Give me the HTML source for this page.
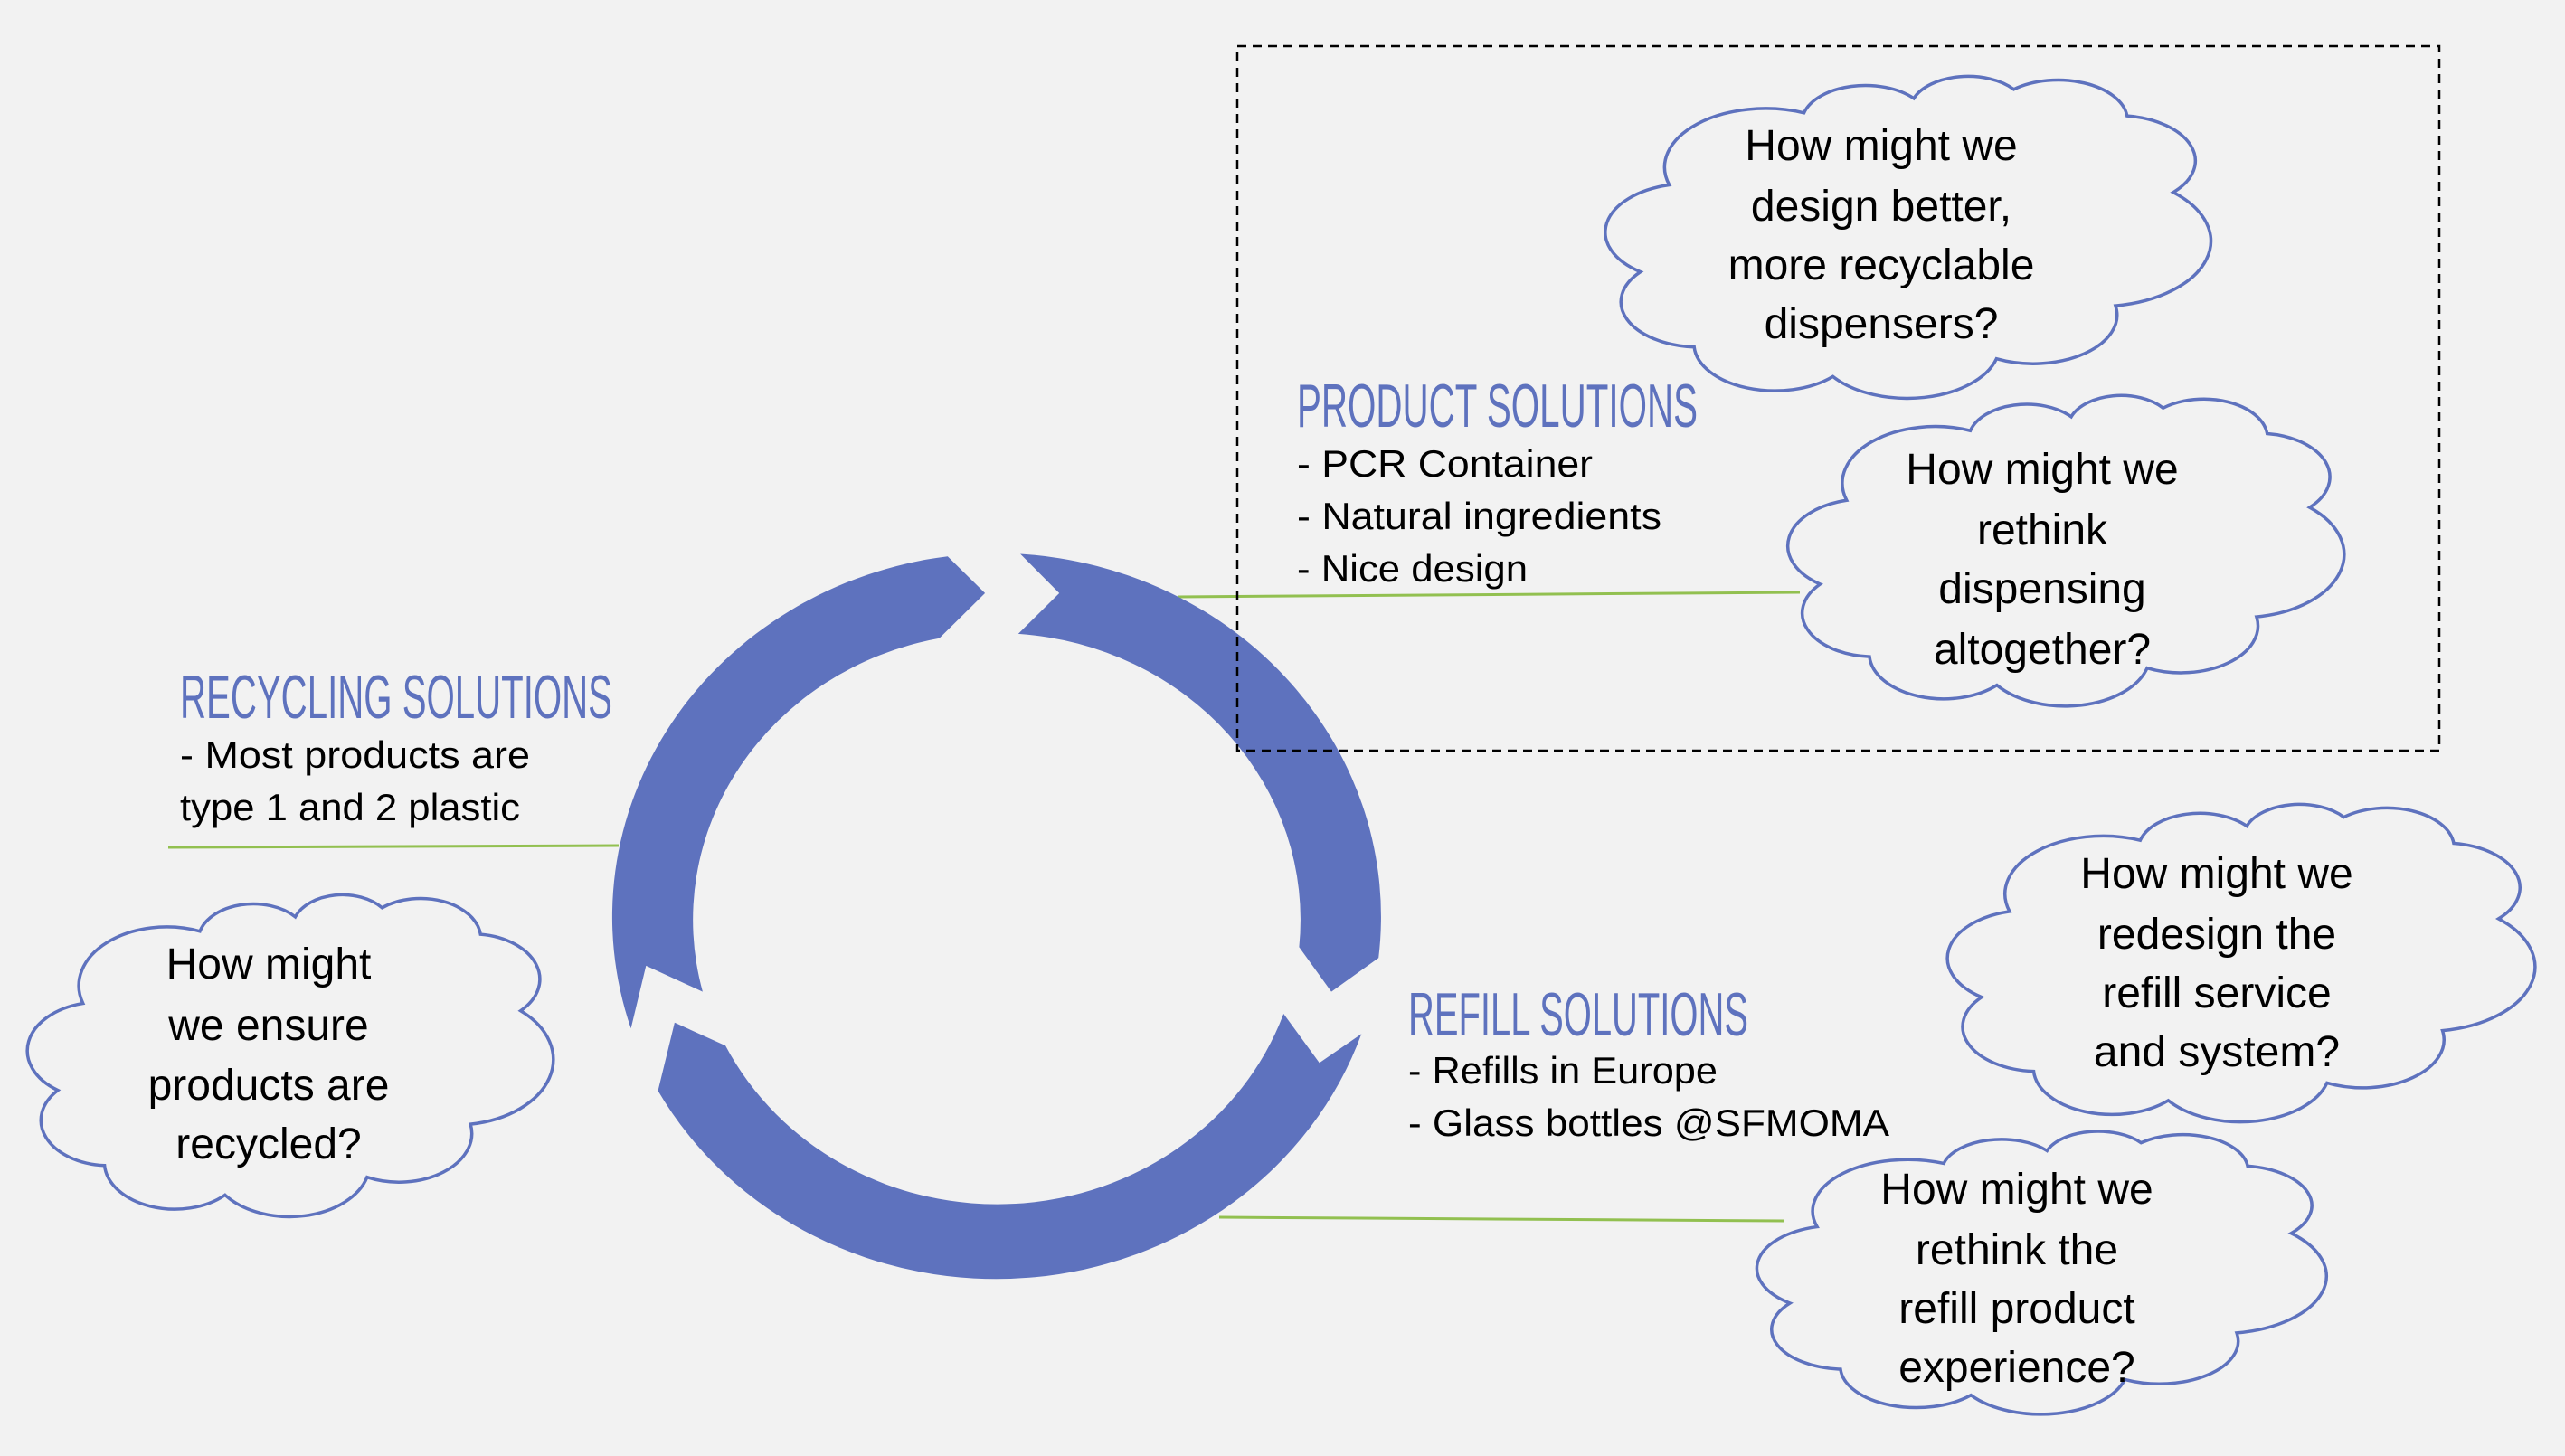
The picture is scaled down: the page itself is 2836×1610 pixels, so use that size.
<!DOCTYPE html>
<html><head><meta charset="utf-8"><style>
html,body{margin:0;padding:0;background:#F2F2F2;}
svg{display:block}
.h{font-family:"Liberation Sans Narrow","Liberation Sans",sans-serif;fill:#5E72BE;font-size:68px;}
.b{font-family:"Liberation Sans",sans-serif;fill:#000;font-size:42px;}
.c{font-family:"Liberation Sans",sans-serif;fill:#000;font-size:48px;text-anchor:middle;}
.cl{fill:#F2F2F2;stroke:#5E72BE;stroke-width:3.5px;}
</style></head><body>
<svg width="2836" height="1610" viewBox="0 0 2836 1610" xmlns="http://www.w3.org/2000/svg">
<rect width="2836" height="1610" fill="#F2F2F2"/>

<line x1="1302" y1="660" x2="1990" y2="655" stroke="#92C050" stroke-width="3"/>
<line x1="186" y1="937" x2="684" y2="935" stroke="#92C050" stroke-width="3"/>
<line x1="1348" y1="1346" x2="1972" y2="1350" stroke="#92C050" stroke-width="3"/>

<g fill="#5E72BE">
<path d="M697.6,1137.3 A427 402 0 0 1 1047.8,615.2 L1089.1,655.9 L1038.6,705.8 A336 317 0 0 0 776.9,1096.6 L714.3,1067.9 Z"/>
<path d="M1128.1,612.5 A427 402 0 0 1 1524.2,1059.2 L1472.0,1096.6 L1436.4,1047.3 A336 317 0 0 0 1125.8,700.9 L1171.2,655.9 Z"/>
<path d="M1505.3,1143.2 A427 402 0 0 1 727.5,1206.1 L745.9,1130.8 L802.1,1156.3 A336 317 0 0 0 1419.2,1121.0 L1458.8,1175.2 Z"/>
</g>

<rect x="1368" y="51" width="1329" height="779" fill="none" stroke="#000" stroke-width="2.5" stroke-dasharray="10,7"/>

<g class="cl">
<path vector-effect="non-scaling-stroke" transform="translate(1785 81) scale(6.39 3.71)" d="M9.5,33.3 A17.5 17.5 0 0 1 32.8,11.8 A11 11 0 0 1 51.8,7.5 A10 10 0 0 1 69.1,4.8 A12 12 0 0 1 88.7,12.7 A13.5 13.5 0 0 1 96.7,35.5 A19.5 19.5 0 0 1 86.7,69.3 A14.5 14.5 0 0 1 66.1,85.1 A16 16 0 0 1 37.8,90.4 A14 14 0 0 1 13.8,81.6 A13.5 13.5 0 0 1 4.5,59.2 A14.5 14.5 0 0 1 9.5,33.3 Z"/>
<path vector-effect="non-scaling-stroke" transform="translate(1986 434) scale(5.87 3.58)" d="M9.5,33.3 A17.5 17.5 0 0 1 32.8,11.8 A11 11 0 0 1 51.8,7.5 A10 10 0 0 1 69.1,4.8 A12 12 0 0 1 88.7,12.7 A13.5 13.5 0 0 1 96.7,35.5 A19.5 19.5 0 0 1 86.7,69.3 A14.5 14.5 0 0 1 66.1,85.1 A16 16 0 0 1 37.8,90.4 A14 14 0 0 1 13.8,81.6 A13.5 13.5 0 0 1 4.5,59.2 A14.5 14.5 0 0 1 9.5,33.3 Z"/>
<path vector-effect="non-scaling-stroke" transform="translate(2163 886) scale(6.20 3.66)" d="M9.5,33.3 A17.5 17.5 0 0 1 32.8,11.8 A11 11 0 0 1 51.8,7.5 A10 10 0 0 1 69.1,4.8 A12 12 0 0 1 88.7,12.7 A13.5 13.5 0 0 1 96.7,35.5 A19.5 19.5 0 0 1 86.7,69.3 A14.5 14.5 0 0 1 66.1,85.1 A16 16 0 0 1 37.8,90.4 A14 14 0 0 1 13.8,81.6 A13.5 13.5 0 0 1 4.5,59.2 A14.5 14.5 0 0 1 9.5,33.3 Z"/>
<path vector-effect="non-scaling-stroke" transform="translate(1952 1248) scale(6.01 3.26)" d="M9.5,33.3 A17.5 17.5 0 0 1 32.8,11.8 A11 11 0 0 1 51.8,7.5 A10 10 0 0 1 69.1,4.8 A12 12 0 0 1 88.7,12.7 A13.5 13.5 0 0 1 96.7,35.5 A19.5 19.5 0 0 1 86.7,69.3 A14.5 14.5 0 0 1 66.1,85.1 A16 16 0 0 1 37.8,90.4 A14 14 0 0 1 13.8,81.6 A13.5 13.5 0 0 1 4.5,59.2 A14.5 14.5 0 0 1 9.5,33.3 Z"/>
<path vector-effect="non-scaling-stroke" transform="translate(39 986) scale(5.55 3.71)" d="M9.5,33.3 A17.5 17.5 0 0 1 32.8,11.8 A11 11 0 0 1 51.8,7.5 A10 10 0 0 1 69.1,4.8 A12 12 0 0 1 88.7,12.7 A13.5 13.5 0 0 1 96.7,35.5 A19.5 19.5 0 0 1 86.7,69.3 A14.5 14.5 0 0 1 66.1,85.1 A16 16 0 0 1 37.8,90.4 A14 14 0 0 1 13.8,81.6 A13.5 13.5 0 0 1 4.5,59.2 A14.5 14.5 0 0 1 9.5,33.3 Z"/>
</g>

<text class="h" x="1434" y="472" textLength="443" lengthAdjust="spacingAndGlyphs">PRODUCT SOLUTIONS</text>
<text class="h" x="199" y="794" textLength="478" lengthAdjust="spacingAndGlyphs">RECYCLING SOLUTIONS</text>
<text class="h" x="1557" y="1145" textLength="376" lengthAdjust="spacingAndGlyphs">REFILL SOLUTIONS</text>

<text class="b" x="1434" y="527" textLength="327" lengthAdjust="spacingAndGlyphs">- PCR Container</text>
<text class="b" x="1434" y="585" textLength="403" lengthAdjust="spacingAndGlyphs">- Natural ingredients</text>
<text class="b" x="1434" y="643" textLength="255" lengthAdjust="spacingAndGlyphs">- Nice design</text>
<text class="b" x="199" y="849" textLength="387" lengthAdjust="spacingAndGlyphs">- Most products are</text>
<text class="b" x="199" y="907" textLength="376" lengthAdjust="spacingAndGlyphs">type 1 and 2 plastic</text>
<text class="b" x="1557" y="1198" textLength="342" lengthAdjust="spacingAndGlyphs">- Refills in Europe</text>
<text class="b" x="1557" y="1256" textLength="532" lengthAdjust="spacingAndGlyphs">- Glass bottles @SFMOMA</text>

<text class="c" x="2080" y="177">How might we</text>
<text class="c" x="2080" y="244">design better,</text>
<text class="c" x="2080" y="309">more recyclable</text>
<text class="c" x="2080" y="374">dispensers?</text>

<text class="c" x="2258" y="535">How might we</text>
<text class="c" x="2258" y="602">rethink</text>
<text class="c" x="2258" y="667">dispensing</text>
<text class="c" x="2258" y="734">altogether?</text>

<text class="c" x="2451" y="982">How might we</text>
<text class="c" x="2451" y="1049">redesign the</text>
<text class="c" x="2451" y="1114">refill service</text>
<text class="c" x="2451" y="1179">and system?</text>

<text class="c" x="2230" y="1331">How might we</text>
<text class="c" x="2230" y="1398">rethink the</text>
<text class="c" x="2230" y="1463">refill product</text>
<text class="c" x="2230" y="1528">experience?</text>

<text class="c" x="297" y="1082">How might</text>
<text class="c" x="297" y="1150">we ensure</text>
<text class="c" x="297" y="1216">products are</text>
<text class="c" x="297" y="1281">recycled?</text>
</svg>
</body></html>
